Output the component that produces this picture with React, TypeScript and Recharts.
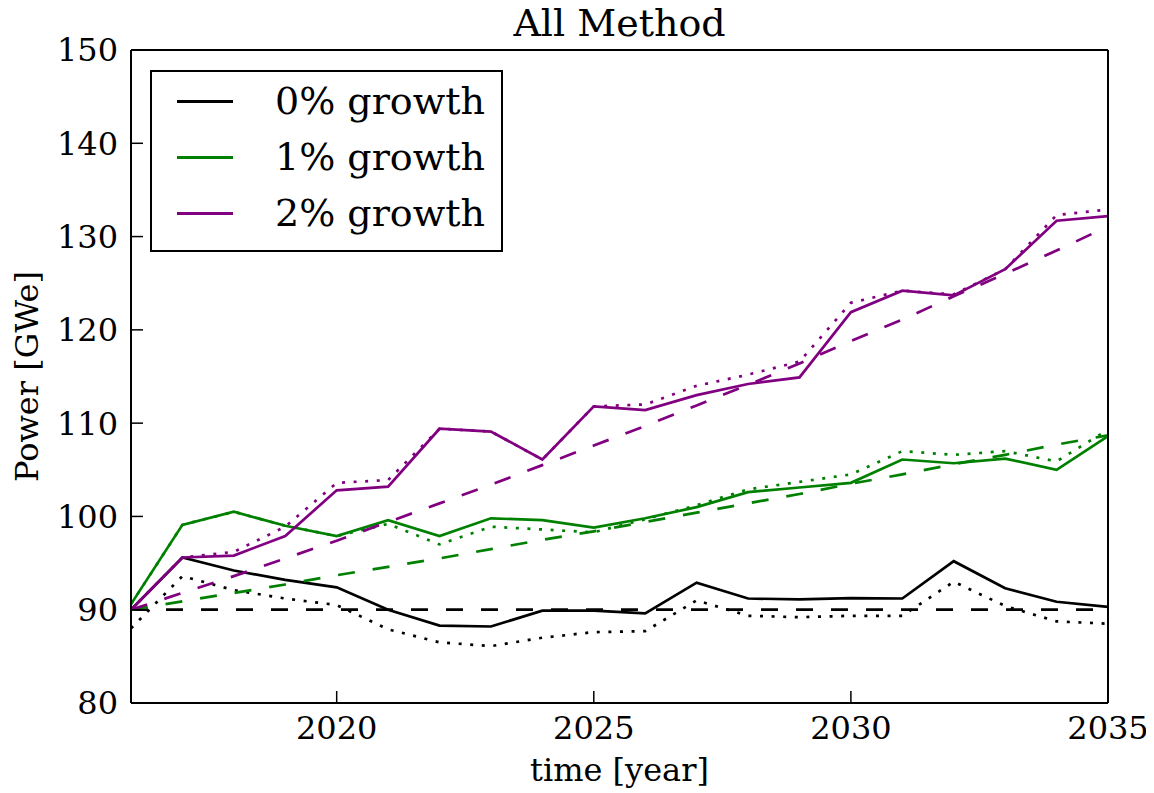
import { LineChart, Line, XAxis, YAxis, Legend, Label } from "recharts";

const years = [
  2016, 2017, 2018, 2019, 2020, 2021, 2022, 2023, 2024, 2025,
  2026, 2027, 2028, 2029, 2030, 2031, 2032, 2033, 2034, 2035,
];

// 0% growth
const zeroActual = [90.0, 95.6, 94.2, 93.2, 92.4, 90.0, 88.3, 88.2, 89.9, 89.9, 89.6, 92.9, 91.2, 91.1, 91.25, 91.2, 95.2, 92.3, 90.85, 90.3];
const zeroAlt = [88.0, 93.6, 92.1, 91.2, 90.5, 87.9, 86.5, 86.1, 87.0, 87.6, 87.7, 91.0, 89.35, 89.2, 89.35, 89.35, 93.0, 90.4, 88.75, 88.5];
const zeroDemand = [90, 90, 90, 90, 90, 90, 90, 90, 90, 90, 90, 90, 90, 90, 90, 90, 90, 90, 90, 90];

// 1% growth
const oneActual = [90.6, 99.1, 100.5, 99.0, 97.9, 99.6, 97.9, 99.8, 99.6, 98.8, 99.8, 101.0, 102.6, 103.1, 103.6, 106.1, 105.7, 106.2, 105.0, 108.6];
const oneAlt = [90.6, 99.1, 100.5, 99.0, 97.9, 99.2, 97.0, 98.9, 98.6, 98.3, 99.7, 101.2, 102.9, 103.7, 104.5, 107.0, 106.6, 107.0, 105.9, 109.3];
const oneDemand = [90.0, 90.9, 91.8, 92.7, 93.7, 94.6, 95.5, 96.5, 97.5, 98.4, 99.4, 100.4, 101.4, 102.4, 103.5, 104.5, 105.6, 106.6, 107.7, 108.7];

// 2% growth
const twoActual = [90.0, 95.6, 95.8, 97.9, 102.8, 103.2, 109.4, 109.1, 106.1, 111.8, 111.4, 113.0, 114.2, 114.9, 121.9, 124.2, 123.7, 126.5, 131.7, 132.2];
const twoAlt = [90.0, 95.6, 96.2, 98.9, 103.6, 103.9, 109.4, 109.1, 106.1, 111.8, 112.0, 114.0, 115.2, 116.6, 122.9, 124.2, 123.8, 126.5, 132.3, 132.9];
const twoDemand = [90.0, 91.8, 93.6, 95.5, 97.4, 99.4, 101.4, 103.4, 105.5, 107.6, 109.7, 111.9, 114.1, 116.4, 118.8, 121.1, 123.6, 126.0, 128.5, 131.1];

const xTicks = [2020, 2025, 2030, 2035];
const yTicks = [80, 90, 100, 110, 120, 130, 140, 150];
const legendLabels = ["0% growth", "1% growth", "2% growth"];

const BLACK = "#000000";
const GREEN = "#008000";
const PURPLE = "#800080";
const FONT = "'DejaVu Serif', serif";

const data = years.map((year, i) => ({
  year,
  zeroActual: zeroActual[i],
  zeroAlt: zeroAlt[i],
  zeroDemand: zeroDemand[i],
  oneActual: oneActual[i],
  oneAlt: oneAlt[i],
  oneDemand: oneDemand[i],
  twoActual: twoActual[i],
  twoAlt: twoAlt[i],
  twoDemand: twoDemand[i],
}));

const DOTTED = "3 8.6";
const DASHED = "17 18";

const series = [
  { key: "zeroActual", color: BLACK, dash: undefined },
  { key: "zeroAlt", color: BLACK, dash: DOTTED },
  { key: "zeroDemand", color: BLACK, dash: DASHED },
  { key: "oneActual", color: GREEN, dash: undefined },
  { key: "oneAlt", color: GREEN, dash: DOTTED },
  { key: "oneDemand", color: GREEN, dash: DASHED },
  { key: "twoActual", color: PURPLE, dash: undefined },
  { key: "twoAlt", color: PURPLE, dash: DOTTED },
  { key: "twoDemand", color: PURPLE, dash: DASHED },
];

const legendColors = [BLACK, GREEN, PURPLE];

function LegendBox() {
  return (
    <div
      style={{
        width: 349,
        padding: "1px 0 9px 0",
        border: "2px solid #000",
        background: "#fff",
        fontFamily: FONT,
        fontSize: 38,
        lineHeight: 1,
        color: "#000",
      }}
    >
      {legendLabels.map((label, i) => (
        <div key={label} style={{ height: 56, display: "flex", alignItems: "center" }}>
          <div style={{ marginLeft: 25, width: 56, height: 3, background: legendColors[i] }} />
          <span style={{ marginLeft: 42, whiteSpace: "nowrap" }}>{label}</span>
        </div>
      ))}
    </div>
  );
}

const axisLine = { stroke: "#000", strokeWidth: 2 };
const tickLine = { stroke: "#000", strokeWidth: 1.5 };
const tickStyle = { fill: "#000", fontSize: 32, fontFamily: FONT };

export default function App() {
  // cancel the body margin so the chart fills the whole window
  return (
    <div style={{ position: "relative", top: -8, left: -8, width: 1154, height: 793 }}>
      <LineChart
        width={1154}
        height={793}
        data={data}
        margin={{ top: 49, right: 45, bottom: 0, left: 0 }}
      >
        <XAxis
          dataKey="year"
          type="number"
          domain={[2016, 2035]}
          ticks={xTicks}
          interval={0}
          allowDataOverflow
          height={90}
          tickSize={-12}
          tickMargin={25}
          axisLine={axisLine}
          tickLine={tickLine}
          tick={tickStyle}
        >
          <Label
            content={(props: any) => {
              const vb = props.viewBox;
              return (
                <text
                  x={vb.x + vb.width / 2}
                  y={vb.y + 78}
                  textAnchor="middle"
                  fontFamily={FONT}
                  fontSize={32}
                  fill="#000"
                >
                  time [year]
                </text>
              );
            }}
          />
        </XAxis>
        <XAxis
          xAxisId="top"
          orientation="top"
          dataKey="year"
          type="number"
          domain={[2016, 2035]}
          ticks={xTicks}
          interval={0}
          allowDataOverflow
          height={1}
          tickSize={-12}
          axisLine={axisLine}
          tickLine={tickLine}
          tick={false}
        >
          <Label
            content={(props: any) => {
              const vb = props.viewBox;
              return (
                <text
                  x={vb.x + vb.width / 2}
                  y={vb.y + vb.height - 14}
                  textAnchor="middle"
                  fontFamily={FONT}
                  fontSize={38}
                  fill="#000"
                >
                  All Method
                </text>
              );
            }}
          />
        </XAxis>
        <YAxis
          type="number"
          domain={[80, 150]}
          ticks={yTicks}
          interval={0}
          allowDataOverflow
          width={131}
          tickSize={-12}
          tickMargin={25}
          axisLine={axisLine}
          tickLine={tickLine}
          tick={tickStyle}
        >
          <Label
            content={(props: any) => {
              const vb = props.viewBox;
              const cx = vb.x + 38;
              const cy = vb.y + vb.height / 2;
              return (
                <text
                  x={cx}
                  y={cy}
                  transform={`rotate(-90, ${cx}, ${cy})`}
                  textAnchor="middle"
                  fontFamily={FONT}
                  fontSize={32}
                  fill="#000"
                >
                  Power [GWe]
                </text>
              );
            }}
          />
        </YAxis>
        <YAxis
          yAxisId="right"
          orientation="right"
          type="number"
          domain={[80, 150]}
          ticks={yTicks}
          interval={0}
          allowDataOverflow
          width={1}
          tickSize={-12}
          axisLine={axisLine}
          tickLine={tickLine}
          tick={false}
        />
        <Legend
          layout="horizontal"
          align="center"
          verticalAlign="middle"
          wrapperStyle={{ left: 150, top: 70, width: "auto", height: "auto" }}
          content={() => <LegendBox />}
        />
        {series.map((s) => (
          <Line
            key={s.key}
            dataKey={s.key}
            type="linear"
            stroke={s.color}
            strokeWidth={2.7}
            strokeDasharray={s.dash}
            dot={false}
            activeDot={false}
            isAnimationActive={false}
          />
        ))}
      </LineChart>
    </div>
  );
}
